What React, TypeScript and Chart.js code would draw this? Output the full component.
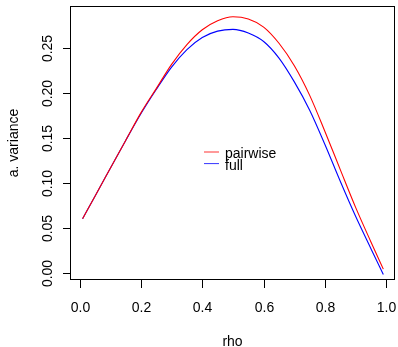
import React, { useEffect, useRef } from "react";
import { Chart, registerables } from "chart.js";

Chart.register(...registerables);

const rho = [0.01, 0.05, 0.1, 0.15, 0.2, 0.25, 0.3, 0.35, 0.4, 0.45, 0.5, 0.55, 0.6, 0.65, 0.7, 0.75, 0.8, 0.85, 0.9, 0.95, 0.99];
const pairwise = [0.06, 0.085, 0.116, 0.147, 0.178, 0.205, 0.232, 0.254, 0.2705, 0.2805, 0.285, 0.2825, 0.2735, 0.2555, 0.2305, 0.1975, 0.157, 0.1145, 0.0725, 0.034, 0.004];
const full = [0.06, 0.085, 0.116, 0.147, 0.177, 0.204, 0.229, 0.2485, 0.262, 0.269, 0.271, 0.267, 0.2575, 0.239, 0.2125, 0.181, 0.1425, 0.1015, 0.0625, 0.0265, -0.002];
const seriesNames = ["pairwise", "full"];
const seriesColors = ["#FF0000", "#0000FF"];
const xTicks = [0, 0.2, 0.4, 0.6, 0.8, 1.0];
const xTickLabels = ["0.0", "0.2", "0.4", "0.6", "0.8", "1.0"];
const yTicks = [0, 0.05, 0.1, 0.15, 0.2, 0.25];
const yTickLabels = ["0.00", "0.05", "0.10", "0.15", "0.20", "0.25"];
const xTitle = "rho";
const yTitle = "a. variance";

const FONT = '14px "Liberation Sans", Arial, sans-serif';

const rAxesPlugin = {
  id: "rAxes",
  afterDraw(chart: any) {
    const ctx = chart.ctx as CanvasRenderingContext2D;
    const { left, right, top, bottom } = chart.chartArea;
    const xs = chart.scales.x;
    const ys = chart.scales.y;
    ctx.save();
    ctx.strokeStyle = "#000";
    ctx.fillStyle = "#000";
    ctx.lineWidth = 1;
    // box
    ctx.strokeRect(left + 0.5, top + 0.5, right - left - 1, bottom - top - 1);
    ctx.font = FONT;
    // x ticks
    ctx.textAlign = "center";
    ctx.textBaseline = "alphabetic";
    xTicks.forEach((v, i) => {
      const px = Math.round(xs.getPixelForValue(v)) + 0.5;
      ctx.beginPath();
      ctx.moveTo(px, bottom);
      ctx.lineTo(px, bottom + 8);
      ctx.stroke();
      ctx.fillText(xTickLabels[i], px, bottom + 32);
    });
    // y ticks
    yTicks.forEach((v, i) => {
      const py = Math.round(ys.getPixelForValue(v)) + 0.5;
      ctx.beginPath();
      ctx.moveTo(left, py);
      ctx.lineTo(left - 7, py);
      ctx.stroke();
      ctx.save();
      ctx.translate(left - 18.5, py);
      ctx.rotate(-Math.PI / 2);
      ctx.textAlign = "center";
      ctx.fillText(yTickLabels[i], 0, 0);
      ctx.restore();
    });
    // titles
    ctx.textAlign = "center";
    ctx.fillText(xTitle, (left + right) / 2, bottom + 65.5);
    ctx.save();
    ctx.translate(18, (top + bottom) / 2);
    ctx.rotate(-Math.PI / 2);
    ctx.fillText(yTitle, 0, 0);
    ctx.restore();
    // legend
    const lx = left + 134;
    const ly = top + 146;
    seriesNames.forEach((name, i) => {
      const y = ly + i * 11.6;
      ctx.strokeStyle = seriesColors[i];
      ctx.globalAlpha = 0.8;
      ctx.beginPath();
      ctx.moveTo(lx, y);
      ctx.lineTo(lx + 15, y);
      ctx.stroke();
      ctx.globalAlpha = 1;
      ctx.textAlign = "left";
      ctx.fillText(name, lx + 21, y + 6);
    });
    ctx.restore();
  },
};

export default function App() {
  const ref = useRef<HTMLCanvasElement>(null);
  useEffect(() => {
    if (!ref.current) return;
    const chart = new Chart(ref.current, {
      type: "line",
      data: {
        datasets: [
          {
            label: seriesNames[0],
            data: rho.map((x, i) => ({ x, y: pairwise[i] })),
            borderColor: seriesColors[0],
            borderWidth: 1.1,
            pointRadius: 0,
            cubicInterpolationMode: "monotone",
            fill: false,
          },
          {
            label: seriesNames[1],
            data: rho.map((x, i) => ({ x, y: full[i] })),
            borderColor: seriesColors[1],
            borderWidth: 1.1,
            pointRadius: 0,
            cubicInterpolationMode: "monotone",
            fill: false,
          },
        ],
      },
      options: {
        responsive: false,
        animation: false,
        events: [],
        layout: { padding: { left: 70, top: 6, right: 3, bottom: 67 } },
        plugins: { legend: { display: false }, tooltip: { enabled: false } },
        scales: {
          x: { type: "linear", display: false, min: -0.031, max: 1.028 },
          y: { type: "linear", display: false, min: -0.0081, max: 0.297 },
        },
      },
      plugins: [rAxesPlugin],
    });
    return () => chart.destroy();
  }, []);
  return (
    <div style={{ position: "fixed", left: 0, top: 0, width: 398, height: 347, background: "#fff" }}>
      <canvas ref={ref} width={398} height={347} />
    </div>
  );
}
